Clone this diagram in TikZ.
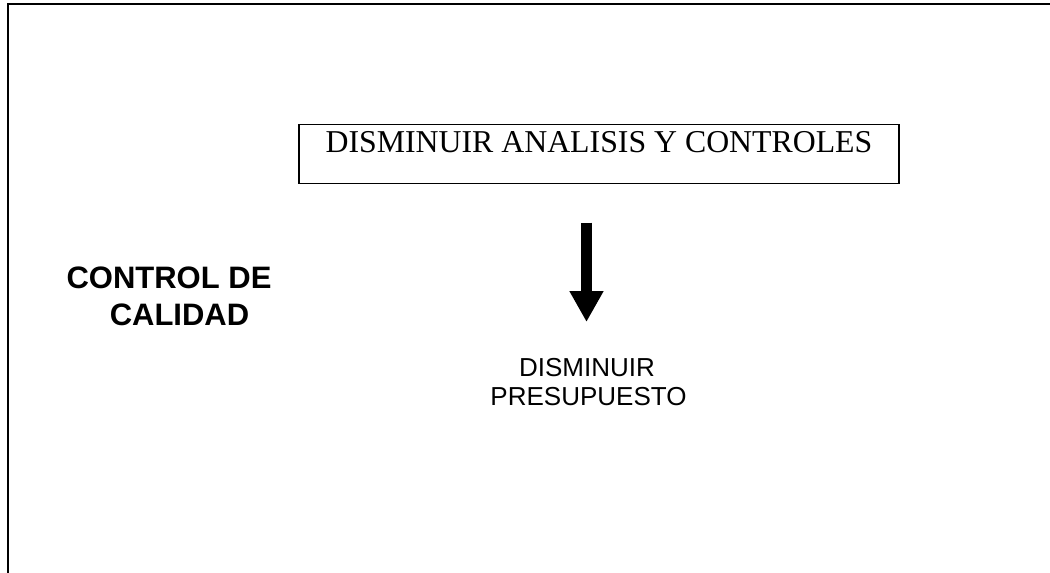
\documentclass[tikz,border=0pt]{standalone}
\usepackage{fontspec}
\setmainfont{Liberation Serif}
\newfontfamily\arialfont{Liberation Sans}
\usetikzlibrary{arrows.meta}
\tikzset{
  frameline/.style={line width=2pt, line cap=rect},
  taskbox/.style={draw, line width=1.6pt, inner sep=0pt, minimum width=600pt,
    text height=28pt, text depth=31pt, font=\fontsize{31.8}{38}\selectfont},
  headline/.style={inner sep=0pt, anchor=base, font=\arialfont\bfseries\fontsize{31}{36}\selectfont},
  result/.style={inner sep=0pt, anchor=base, font=\arialfont\fontsize{26}{29}\selectfont},
  blockarrow/.style={line width=11pt, -{Triangle[width=32pt,length=31pt]}}
}
\begin{document}
\begin{tikzpicture}[x=1pt, y=-1pt]
  \useasboundingbox (0,0) rectangle (1050,573);
  % open frame: top edge and left edge only
  \coordinate (frameTL) at (7.7,4.3);
  \coordinate (frameTR) at (1050,4.3);
  \coordinate (frameBL) at (7.7,573);
  \draw[frameline] (frameTR) -- (frameTL) -- (frameBL);

  \node[taskbox] (task) at (599,154) {DISMINUIR ANALISIS Y CONTROLES};

  \node[headline] (ctlA) at (169,288) {CONTROL DE};
  \node[headline] (ctlB) at (179.5,325) {CALIDAD};

  \node[result] (resA) at (587,376) {DISMINUIR};
  \node[result] (resB) at (588.5,405) {PRESUPUESTO};

  \coordinate (arrTop) at (586.5,222.7);
  \coordinate (arrTip) at (586.5,322);
  \draw[blockarrow] (arrTop) -- (arrTip);
\end{tikzpicture}
\end{document}
